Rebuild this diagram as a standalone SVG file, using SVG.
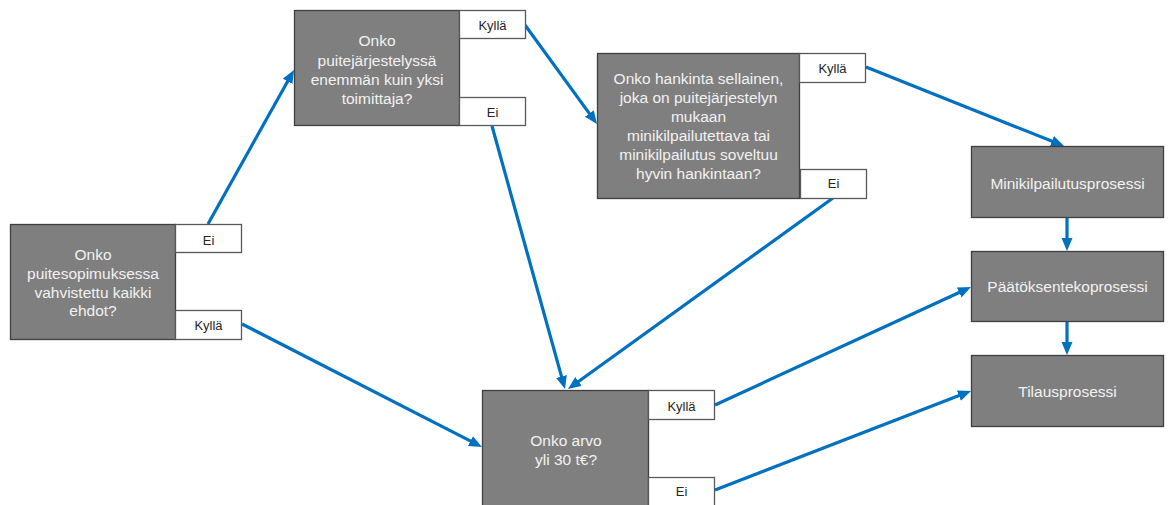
<svg xmlns="http://www.w3.org/2000/svg" width="1168" height="505" viewBox="0 0 1168 505">
  <style>
    .box { fill: #7f7f7f; stroke: #3f3f3f; stroke-width: 1.3; }
    .tag { fill: #ffffff; stroke: #595959; stroke-width: 1.3; }
    .q { font-family: "Liberation Sans", Arial, sans-serif; font-size: 15.5px; fill: #f2f2f2; text-anchor: middle; }
    .t { font-family: "Liberation Sans", Arial, sans-serif; font-size: 13px; fill: #262626; text-anchor: middle; }
    .edge { stroke: #0070c0; stroke-width: 3.2; fill: none; marker-end: url(#head); }
  </style>
  <defs>
    <marker id="head" markerUnits="userSpaceOnUse" markerWidth="14" markerHeight="12" refX="3" refY="5.5" orient="auto">
      <path d="M0,0 L13,5.5 L0,11 z" fill="#0070c0"/>
    </marker>
  </defs>
  <rect width="1168" height="505" fill="#ffffff"/>

  <!-- connectors -->
  <g id="connectors">
    <line class="edge" x1="208" y1="224" x2="289.1" y2="78.7"/>
    <line class="edge" x1="242" y1="324" x2="473.1" y2="442.4"/>
    <line class="edge" x1="525" y1="25" x2="591.1" y2="115.9"/>
    <line class="edge" x1="492" y1="126" x2="562.3" y2="379.4"/>
    <line class="edge" x1="866" y1="67" x2="1054.7" y2="142.3"/>
    <line class="edge" x1="833" y1="198" x2="576.1" y2="383.2"/>
    <line class="edge" x1="1067" y1="217" x2="1067" y2="241"/>
    <line class="edge" x1="1067" y1="322" x2="1067" y2="345"/>
    <line class="edge" x1="715" y1="405" x2="961.9" y2="291.2"/>
    <line class="edge" x1="715" y1="490" x2="961.7" y2="394.6"/>
  </g>

  <!-- decision: terms fixed in framework agreement -->
  <g id="q-terms">
    <rect class="box" x="10.5" y="224.5" width="165" height="115"/>
    <text class="q" x="93" y="260">Onko</text>
    <text class="q" x="93" y="279">puitesopimuksessa</text>
    <text class="q" x="93" y="297.5">vahvistettu kaikki</text>
    <text class="q" x="93" y="316">ehdot?</text>
    <rect class="tag" x="175.5" y="224.5" width="66" height="28"/>
    <text class="t" x="208.5" y="244.5">Ei</text>
    <rect class="tag" x="175.5" y="310.5" width="66" height="29"/>
    <text class="t" x="208.5" y="329.5">Kyllä</text>
  </g>

  <!-- decision: more than one supplier -->
  <g id="q-suppliers">
    <rect class="box" x="294.5" y="10.5" width="165" height="115"/>
    <text class="q" x="377" y="46">Onko</text>
    <text class="q" x="377" y="65.5">puitejärjestelyssä</text>
    <text class="q" x="377" y="85">enemmän kuin yksi</text>
    <text class="q" x="377" y="104">toimittaja?</text>
    <rect class="tag" x="459.5" y="10.5" width="66" height="28"/>
    <text class="t" x="492.5" y="30">Kyllä</text>
    <rect class="tag" x="459.5" y="97.5" width="66" height="28"/>
    <text class="t" x="492.5" y="116.5">Ei</text>
  </g>

  <!-- decision: mini-competition applicable -->
  <g id="q-minicomp">
    <rect class="box" x="597.5" y="53.5" width="202" height="145"/>
    <text class="q" x="698.5" y="83.5">Onko hankinta sellainen,</text>
    <text class="q" x="698.5" y="103">joka on puitejärjestelyn</text>
    <text class="q" x="698.5" y="122">mukaan</text>
    <text class="q" x="698.5" y="141">minikilpailutettava tai</text>
    <text class="q" x="698.5" y="160">minikilpailutus soveltuu</text>
    <text class="q" x="698.5" y="179">hyvin hankintaan?</text>
    <rect class="tag" x="799.5" y="53.5" width="66" height="29"/>
    <text class="t" x="832.5" y="73">Kyllä</text>
    <rect class="tag" x="800.5" y="169.5" width="66" height="29"/>
    <text class="t" x="833.5" y="187.5">Ei</text>
  </g>

  <!-- decision: value over 30 k€ -->
  <g id="q-value">
    <rect class="box" x="482.5" y="390.5" width="166" height="116"/>
    <text class="q" x="566" y="445.5">Onko arvo</text>
    <text class="q" x="566" y="465">yli 30 t€?</text>
    <rect class="tag" x="648.5" y="390.5" width="66" height="29"/>
    <text class="t" x="681.5" y="410.5">Kyllä</text>
    <rect class="tag" x="648.5" y="477.5" width="66" height="29"/>
    <text class="t" x="681.5" y="495.5">Ei</text>
  </g>

  <!-- processes -->
  <g id="p-minicomp">
    <rect class="box" x="971.5" y="146.5" width="192" height="71"/>
    <text class="q" x="1067.5" y="188.5">Minikilpailutusprosessi</text>
  </g>
  <g id="p-decision">
    <rect class="box" x="971.5" y="251.5" width="192" height="70"/>
    <text class="q" x="1067.5" y="292">Päätöksentekoprosessi</text>
  </g>
  <g id="p-order">
    <rect class="box" x="971.5" y="355.5" width="192" height="71"/>
    <text class="q" x="1067.5" y="397">Tilausprosessi</text>
  </g>
</svg>
